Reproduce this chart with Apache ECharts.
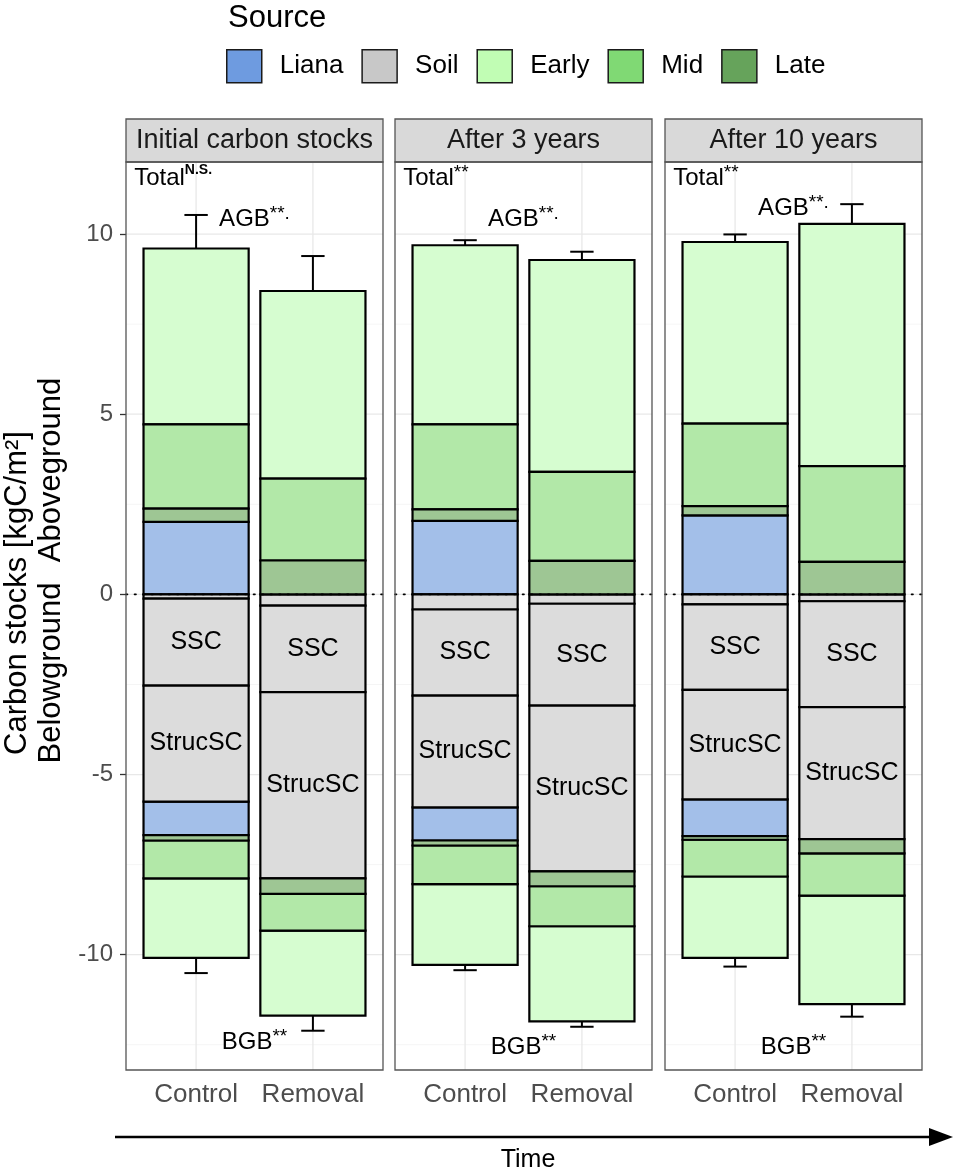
<!DOCTYPE html>
<html>
<head>
<meta charset="utf-8">
<script src="https://cdn.jsdelivr.net/npm/echarts@6/dist/echarts.min.js"></script>
<style>
html, body { margin: 0; padding: 0; background: #fff; }
#main { width: 955px; height: 1173px; }
</style>
</head>
<body>
<div id="main"></div>
<script>
// facets and treatments
var panels = ['Initial carbon stocks', 'After 3 years', 'After 10 years'];
var treatments = ['Control', 'Removal'];
var treatmentX = [1, 2];
var sources = ['Liana', 'Soil', 'Early', 'Mid', 'Late'];
var yTicks = [-10, -5, 0, 5, 10];
var yMinor = [-12.5, -7.5, -2.5, 2.5, 7.5];

// aboveground carbon, [Control, Removal] per panel (kgC/m2)
var agLiana = [[2.01, 0], [2.04, 0], [2.19, 0]];
var agLate  = [[0.37, 0.94], [0.32, 0.93], [0.26, 0.90]];
var agMid   = [[2.34, 2.27], [2.36, 2.47], [2.29, 2.66]];
var agEarly = [[4.88, 5.21], [4.97, 5.88], [5.04, 6.72]];
var agSE    = [[0.93, 0.97], [0.14, 0.23], [0.21, 0.55]];

// belowground carbon (negative), [Control, Removal] per panel
var bgLitter  = [[-0.12, -0.31], [-0.42, -0.26], [-0.28, -0.19]];
var bgSSC     = [[-2.41, -2.40], [-2.39, -2.83], [-2.37, -2.94]];
var bgStrucSC = [[-3.22, -5.17], [-3.10, -4.60], [-3.04, -3.66]];
var bgLiana   = [[-0.93, 0], [-0.92, 0], [-1.02, 0]];
var bgLate    = [[-0.15, -0.43], [-0.14, -0.41], [-0.10, -0.40]];
var bgMid     = [[-1.05, -1.02], [-1.07, -1.11], [-1.02, -1.17]];
var bgEarly   = [[-2.21, -2.36], [-2.24, -2.64], [-2.26, -3.01]];
var bgSE      = [[0.42, 0.42], [0.15, 0.15], [0.24, 0.35]];

// significance annotations
var totalSig = ['N.S.', '**', '**'];
var agbSig = ['**.', '**.', '**.'];
var bgbSig = ['**', '**', '**'];
var totalLabelY = [11.54, 11.54, 11.54];
var agbLabelY = [10.42, 10.42, 10.71];
var bgbLabelY = [-12.43, -12.57, -12.57];

var FONT = '"Liberation Sans", Arial, sans-serif';
var barColors = {Liana: '#a3bfe9', Soil: '#dcdcdc', Early: '#d6fdd0', Mid: '#b2e8a8', Late: '#9ec694'};
var legendColors = {Liana: '#6e9be0', Soil: '#c8c8c8', Early: '#c1fdb4', Mid: '#80d974', Late: '#66a35b'};

var gridLefts = [126, 395, 665];
var gridW = 257, gridTop = 162, gridH = 908, stripH = 43;
var barHalf = 0.45, capHalf = 0.1;

var myChart = echarts.init(document.getElementById('main'));

function makeSegRenderer(labels) {
    return function (params, api) {
        var x = api.value(0);
        var a = api.coord([x - barHalf, api.value(1)]);
        var b = api.coord([x + barHalf, api.value(2)]);
        var r = {x: a[0], y: Math.min(a[1], b[1]), width: b[0] - a[0], height: Math.abs(b[1] - a[1])};
        var kids = [{type: 'rect', shape: r, style: {fill: api.visual('color'), stroke: '#000', lineWidth: 2.2}}];
        var lab = labels[params.dataIndex];
        if (lab) {
            kids.push({type: 'text', x: r.x + r.width / 2, y: r.y + r.height / 2,
                style: {text: lab, fontSize: 25, fontFamily: FONT, fill: '#000',
                    align: 'center', verticalAlign: 'middle', textAlign: 'center', textVerticalAlign: 'middle'}});
        }
        return {type: 'group', children: kids};
    };
}

function renderErr(params, api) {
    var x = api.value(0);
    var a = api.coord([x, api.value(1)]);
    var b = api.coord([x, api.value(2)]);
    var cl = api.coord([x - capHalf, api.value(2)]);
    var cr = api.coord([x + capHalf, api.value(2)]);
    return {type: 'group', children: [
        {type: 'line', shape: {x1: a[0], y1: a[1], x2: b[0], y2: b[1]}, style: {stroke: '#000', lineWidth: 2}},
        {type: 'line', shape: {x1: cl[0], y1: cl[1], x2: cr[0], y2: cr[1]}, style: {stroke: '#000', lineWidth: 2}}
    ]};
}

function renderH(params, api) {
    var cs = params.coordSys;
    var y = api.coord([1, api.value(1)])[1];
    var major = api.value(2) === 1;
    return {type: 'line', shape: {x1: cs.x, y1: y, x2: cs.x + cs.width, y2: y},
        style: {stroke: major ? '#e8e8e8' : '#f3f3f3', lineWidth: major ? 1.3 : 0.8}};
}

function renderV(params, api) {
    var cs = params.coordSys;
    var x = api.coord([api.value(0), 0])[0];
    return {type: 'line', shape: {x1: x, y1: cs.y, x2: x, y2: cs.y + cs.height},
        style: {stroke: '#e8e8e8', lineWidth: 1.3}};
}

function renderZero(params, api) {
    var cs = params.coordSys;
    var y = api.coord([1, 0])[1];
    return {type: 'line', shape: {x1: cs.x, y1: y, x2: cs.x + cs.width, y2: y},
        style: {stroke: '#000', lineWidth: 1.6, lineDash: [1.5, 7], lineCap: 'round'}};
}

var rich = {
    m: {fontSize: 24, lineHeight: 30, fill: '#000', color: '#000', fontFamily: FONT},
    n: {fontSize: 14, lineHeight: 22, verticalAlign: 'top', fill: '#000', color: '#000', fontWeight: 'bold', fontFamily: FONT},
    s: {fontSize: 19, lineHeight: 20, verticalAlign: 'top', fill: '#000', color: '#000', fontFamily: FONT}
};
function sup(txt) { return txt === 'N.S.' ? '{n|' + txt + '}' : '{s|' + txt + '}'; }

function makeNoteRenderer(texts, aligns) {
    return function (params, api) {
        var pt = api.coord([api.value(0), api.value(1)]);
        var al = aligns[params.dataIndex];
        return {type: 'text', x: pt[0], y: pt[1],
            style: {text: texts[params.dataIndex], rich: rich, fill: '#000',
                align: al, verticalAlign: 'middle', textAlign: al, textVerticalAlign: 'middle'}};
    };
}

var grids = [], xAxes = [], yAxes = [], series = [];

panels.forEach(function (pname, p) {
    grids.push({left: gridLefts[p], top: gridTop, width: gridW, height: gridH});
    xAxes.push({
        type: 'value', gridIndex: p, min: 0.4, max: 2.6, splitNumber: 2,
        axisLine: {show: false}, splitLine: {show: false},
        axisTick: {show: true, length: 6, customValues: treatmentX, lineStyle: {color: '#333', width: 1.3}},
        axisLabel: {show: true, customValues: treatmentX, margin: 12, fontSize: 26, color: '#4d4d4d',
            formatter: function (v) { return treatments[Math.round(v) - 1] || ''; }}
    });
    yAxes.push({
        type: 'value', gridIndex: p, min: -13.2, max: 12, splitNumber: 5,
        axisLine: {show: false}, splitLine: {show: false},
        axisTick: {show: p === 0, length: 6, customValues: yTicks, lineStyle: {color: '#333', width: 1.3}},
        axisLabel: {show: p === 0, customValues: yTicks, margin: 13, fontSize: 24, color: '#4d4d4d'}
    });

    // background grid lines
    var hData = yTicks.map(function (v) { return [1, v, 1]; })
        .concat(yMinor.map(function (v) { return [1, v, 0]; }));
    series.push({type: 'custom', name: 'gridH', xAxisIndex: p, yAxisIndex: p, z: 1, silent: true,
        renderItem: renderH, data: hData});
    series.push({type: 'custom', name: 'gridV', xAxisIndex: p, yAxisIndex: p, z: 1, silent: true,
        renderItem: renderV, data: treatmentX.map(function (x) { return [x, 0]; })});

    // stacked segments
    var segs = {Liana: [], Soil: [], Early: [], Mid: [], Late: []};
    var labs = {Liana: [], Soil: [], Early: [], Mid: [], Late: []};
    var errData = [];
    treatmentX.forEach(function (x, t) {
        var top = 0;
        [['Liana', agLiana], ['Late', agLate], ['Mid', agMid], ['Early', agEarly]].forEach(function (d) {
            var v = d[1][p][t];
            if (v) { segs[d[0]].push([x, top, top + v]); labs[d[0]].push(''); }
            top += v;
        });
        errData.push([x, top, top + agSE[p][t]]);
        var bot = 0;
        [['Soil', bgLitter, ''], ['Soil', bgSSC, 'SSC'], ['Soil', bgStrucSC, 'StrucSC'],
         ['Liana', bgLiana, ''], ['Late', bgLate, ''], ['Mid', bgMid, ''], ['Early', bgEarly, '']].forEach(function (d) {
            var v = d[1][p][t];
            if (v) { segs[d[0]].push([x, bot, bot + v]); labs[d[0]].push(d[2]); }
            bot += v;
        });
        errData.push([x, bot, bot - bgSE[p][t]]);
    });

    series.push({type: 'custom', name: 'SE', xAxisIndex: p, yAxisIndex: p, z: 2, silent: true,
        renderItem: renderErr, data: errData});

    sources.forEach(function (s) {
        series.push({type: 'custom', name: s, xAxisIndex: p, yAxisIndex: p, z: 3,
            itemStyle: {color: barColors[s]}, renderItem: makeSegRenderer(labs[s]), data: segs[s]});
    });

    series.push({type: 'custom', name: 'zero', xAxisIndex: p, yAxisIndex: p, z: 4, silent: true,
        renderItem: renderZero, data: [[1, 0]]});

    var noteTexts = ['{m|Total}' + sup(totalSig[p]), '{m|AGB}' + sup(agbSig[p]), '{m|BGB}' + sup(bgbSig[p])];
    series.push({type: 'custom', name: 'notes', xAxisIndex: p, yAxisIndex: p, z: 5, silent: true,
        renderItem: makeNoteRenderer(noteTexts, ['left', 'center', 'center']),
        data: [[0.47, totalLabelY[p]], [1.5, agbLabelY[p]], [1.5, bgbLabelY[p]]]});
});

// strips, panel borders, titles, time arrow
var graphics = [];
panels.forEach(function (pname, p) {
    var L = gridLefts[p];
    graphics.push({type: 'rect', z: 100, silent: true,
        shape: {x: L, y: gridTop - stripH, width: gridW, height: stripH},
        style: {fill: '#d9d9d9', stroke: '#555', lineWidth: 1.3}});
    graphics.push({type: 'text', z: 101, silent: true, x: L + gridW / 2, y: gridTop - stripH / 2,
        style: {text: pname, fontSize: 27, fontFamily: FONT, fill: '#1a1a1a',
            textAlign: 'center', textVerticalAlign: 'middle', align: 'center', verticalAlign: 'middle'}});
    graphics.push({type: 'rect', z: 100, silent: true,
        shape: {x: L, y: gridTop, width: gridW, height: gridH},
        style: {fill: 'none', stroke: '#555', lineWidth: 1.3}});
});
graphics.push({type: 'text', z: 101, x: 228, y: 18,
    style: {text: 'Source', fontSize: 31, fontFamily: FONT, fill: '#000',
        textAlign: 'left', textVerticalAlign: 'middle', align: 'left', verticalAlign: 'middle'}});
graphics.push({type: 'text', z: 101, x: 17, y: 593, rotation: Math.PI / 2,
    style: {text: 'Carbon stocks [kgC/m\u00b2]', fontSize: 31, fontFamily: FONT, fill: '#000',
        textAlign: 'center', textVerticalAlign: 'middle', align: 'center', verticalAlign: 'middle'}});
graphics.push({type: 'text', z: 101, x: 51, y: 673, rotation: Math.PI / 2,
    style: {text: 'Belowground', fontSize: 31, fontFamily: FONT, fill: '#000',
        textAlign: 'center', textVerticalAlign: 'middle', align: 'center', verticalAlign: 'middle'}});
graphics.push({type: 'text', z: 101, x: 51, y: 470, rotation: Math.PI / 2,
    style: {text: 'Aboveground', fontSize: 31, fontFamily: FONT, fill: '#000',
        textAlign: 'center', textVerticalAlign: 'middle', align: 'center', verticalAlign: 'middle'}});
graphics.push({type: 'line', z: 101, shape: {x1: 115, y1: 1137, x2: 935, y2: 1137},
    style: {stroke: '#000', lineWidth: 2.5}});
graphics.push({type: 'polygon', z: 101, shape: {points: [[929, 1128], [953, 1137], [929, 1146]]},
    style: {fill: '#000'}});
graphics.push({type: 'text', z: 101, x: 528, y: 1160,
    style: {text: 'Time', fontSize: 25, fontFamily: FONT, fill: '#000',
        textAlign: 'center', textVerticalAlign: 'middle', align: 'center', verticalAlign: 'middle'}});

var option = {
    animation: false,
    backgroundColor: '#fff',
    textStyle: {fontFamily: FONT},
    legend: {
        left: 221, top: 44, itemWidth: 35, itemHeight: 33, itemGap: 18, icon: 'rect',
        textStyle: {fontSize: 26, color: '#000', padding: [0, 0, 0, 13]},
        data: sources.map(function (s) {
            return {name: s, itemStyle: {color: legendColors[s], borderColor: '#1a1a1a', borderWidth: 1.5}};
        })
    },
    grid: grids,
    xAxis: xAxes,
    yAxis: yAxes,
    graphic: graphics,
    series: series
};

myChart.setOption(option);
</script>
</body>
</html>
